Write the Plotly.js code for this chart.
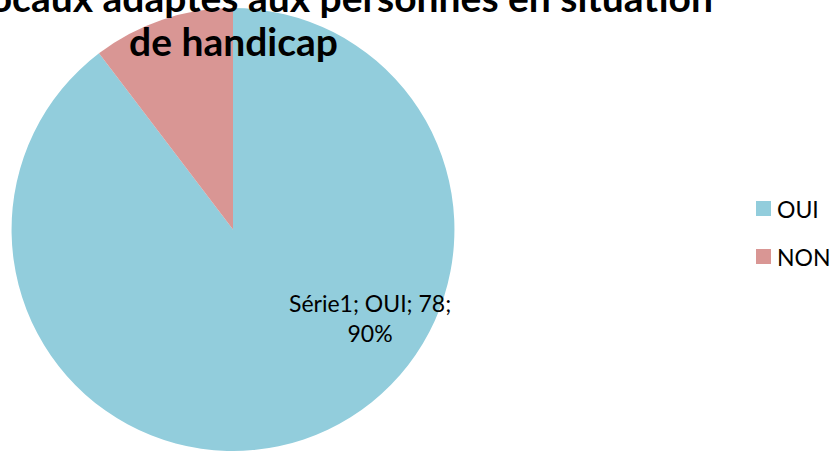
<!DOCTYPE html>
<html>
<head>
<meta charset="utf-8">
<script src="https://cdn.plot.ly/plotly-3.0.1.min.js"></script>
<style>html,body{margin:0;padding:0;background:#fff;}#chart{width:830px;height:451px;}</style>
</head>
<body>
<div id="chart"></div>
<script>
const seriesName = "Série1";
const categories = ["OUI", "NON"];
const values = [78, 9];
const percents = ["90%", "10%"];
const colors = ["#92CDDC", "#D99694"];
const titleLines = ["Pourcentage des locaux adaptés aux personnes en situation", "de handicap"];

const FONT = "Lato, 'Open Sans', sans-serif";

const trace = {
  type: "pie",
  labels: categories,
  values: values,
  sort: false,
  direction: "clockwise",
  rotation: 0,
  marker: {colors: colors, line: {width: 0}},
  textinfo: "none",
  hoverinfo: "label+value+percent",
  showlegend: false,
  domain: {x: [10/830, 456/830], y: [0, 0.982]}
};

const annotations = [
  {
    xref: "paper", yref: "paper", x: 715/830, y: 1 - 22/451,
    xanchor: "right", yanchor: "bottom",
    text: "<b>" + titleLines[0] + "</b>",
    showarrow: false,
    font: {family: FONT, size: 39, color: "#000"}
  },
  {
    xref: "paper", yref: "paper", x: 233/830, y: 1 - 66/451,
    xanchor: "center", yanchor: "bottom",
    text: "<b>" + titleLines[1] + "</b>",
    showarrow: false,
    font: {family: FONT, size: 39, color: "#000"}
  },
  {
    xref: "paper", yref: "paper", x: 370/830, y: 1 - 318/451,
    xanchor: "center", yanchor: "middle",
    text: seriesName + "; " + categories[0] + "; " + values[0] + ";<br>" + percents[0],
    showarrow: false,
    font: {family: FONT, size: 23, color: "#000"}
  }
];

const shapes = [];
const legendY = [208.5, 256.5];
categories.forEach((c, i) => {
  shapes.push({type: "rect", xref: "paper", yref: "paper",
    x0: 756/830, x1: 771/830, y0: 1 - (legendY[i] + 7.5)/451, y1: 1 - (legendY[i] - 7.5)/451,
    fillcolor: colors[i], line: {width: 0}});
  annotations.push({xref: "paper", yref: "paper", x: 775/830, y: 1 - legendY[i]/451,
    xanchor: "left", yanchor: "middle", text: c, showarrow: false,
    font: {family: FONT, size: 23, color: "#000"}});
});

const layout = {
  width: 830, height: 451,
  margin: {l: 0, r: 0, t: 0, b: 0},
  paper_bgcolor: "#fff",
  showlegend: false,
  annotations: annotations,
  shapes: shapes
};

Plotly.newPlot("chart", [trace], layout, {displayModeBar: false, staticPlot: true});
</script>
</body>
</html>
